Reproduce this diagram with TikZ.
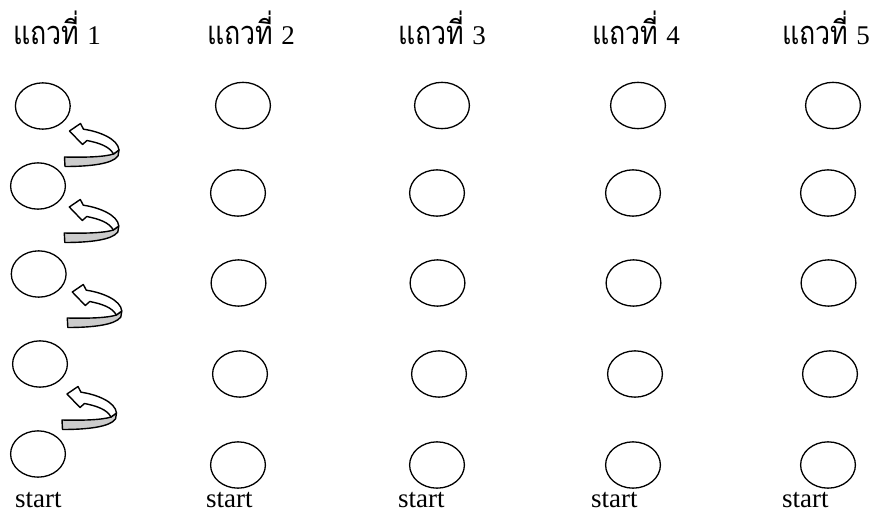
\documentclass[tikz,border=0pt]{standalone}
\usepackage{graphicx}
\usepackage{fontspec}
\setmainfont{Liberation Serif}
\newfontfamily\thaifont[Script=Thai]{Loma}
\usetikzlibrary{shapes.geometric}
\newcommand{\thaiword}[1]{{\fontsize{25.5}{30}\selectfont\scalebox{1.05}[1.28]{\thaifont #1}}}
\tikzset{
  ring/.style={draw, ellipse, line width=1.3pt, minimum width=54.8pt, minimum height=46.3pt, inner sep=0pt},
  hdr/.style={anchor=base west, inner sep=0pt, font=\fontsize{27}{30}\selectfont},
  startlbl/.style={anchor=base west, inner sep=0pt, font=\fontsize{27}{30}\selectfont},
  arrowline/.style={line width=1.4pt, line join=round},
  pics/turnarrow/.style={code={
    \filldraw[fill=gray!40, draw=black, arrowline] (44,23) .. controls (35,26) and (15,26.5) .. (-5,26) -- (-4.5,35.5) .. controls (20,35.5) and (43,33) .. (48.5,25) -- (49.5,19) -- cycle;
    \filldraw[fill=white, draw=black, arrowline] (0,0) -- (11,-7.5) -- (14,-1.8) .. controls (30,0.5) and (48.5,8) .. (49.5,19) -- (44,23) .. controls (40,15.5) and (30,12) .. (17.5,9.5) -- (13,13.5) -- cycle;
  }}
}
\begin{document}
\begin{tikzpicture}[x=1pt,y=-1pt]
\useasboundingbox (0,0) rectangle (874,514);
% headers
\node[hdr] (h1) at (13,44) {\thaiword{แถวที่}\hspace{8pt}1};
\node[hdr] (h2) at (207,44) {\thaiword{แถวที่}\hspace{8pt}2};
\node[hdr] (h3) at (398,44) {\thaiword{แถวที่}\hspace{8pt}3};
\node[hdr] (h4) at (592,44) {\thaiword{แถวที่}\hspace{8pt}4};
\node[hdr] (h5) at (782,44) {\thaiword{แถวที่}\hspace{8pt}5};
% column 1
\node[ring] (a1) at (42.8,106) {};
\node[ring] (a2) at (38,186) {};
\node[ring] (a3) at (38.7,274) {};
\node[ring] (a4) at (40,364) {};
\node[ring] (a5) at (38,454) {};
% columns 2-5
\foreach \c/\x in {b/238,c/437,d/633,e/828}{
  \node[ring] (\c1) at (\x+5,105.5) {};
  \node[ring] (\c2) at (\x,193) {};
  \node[ring] (\c3) at (\x+0.5,283) {};
  \node[ring] (\c4) at (\x+2,374) {};
  \node[ring] (\c5) at (\x,465) {};
}
% curved arrows
\pic at (69.5,131) {turnarrow};
\pic at (69.3,207) {turnarrow};
\pic at (72.3,292) {turnarrow};
\pic at (67,394) {turnarrow};
% start labels
\node[startlbl] (s1) at (15,507) {start};
\node[startlbl] (s2) at (206,507) {start};
\node[startlbl] (s3) at (398,507) {start};
\node[startlbl] (s4) at (591,507) {start};
\node[startlbl] (s5) at (782,507) {start};
\end{tikzpicture}
\end{document}
